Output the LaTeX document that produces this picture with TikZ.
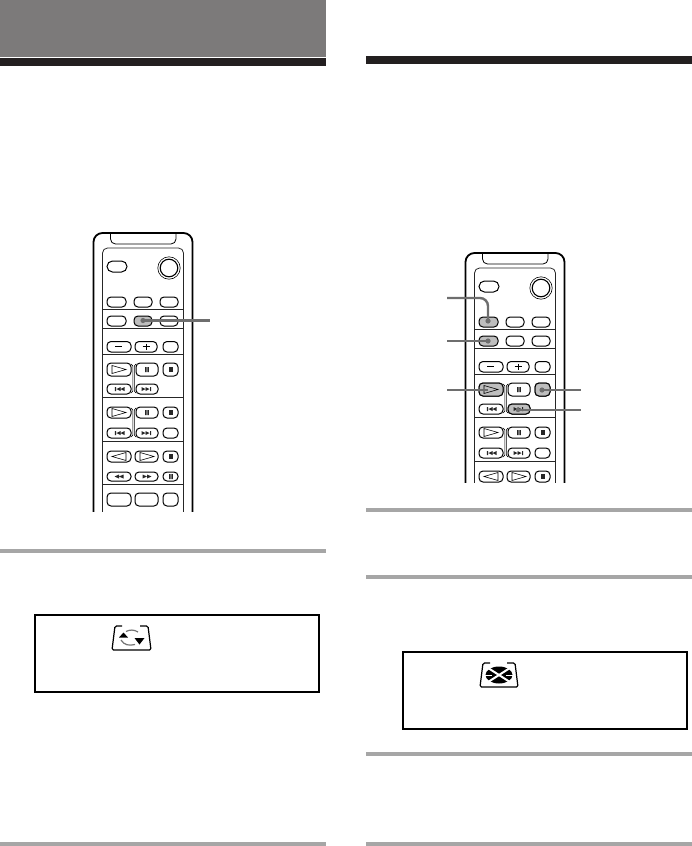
\documentclass[tikz,border=0pt]{standalone}
\definecolor{hdr}{HTML}{7C7A7A}
\definecolor{barblack}{HTML}{231F20}
\definecolor{rule}{HTML}{A6A6A6}
\definecolor{lead}{HTML}{6E6E6E}
\definecolor{hi}{HTML}{BEBEBE}
\tikzset{
  btn/.style={draw=black,line width=1pt,rounded corners=4pt,fill=white},
  hibtn/.style={btn,fill=hi},
  sep/.style={draw=black!85,line width=0.8pt},
  leadline/.style={draw=lead,line width=2.4pt},
  frame/.style={draw=black,line width=1.8pt},
  graybar/.style={fill=rule,draw=none},
  blackbar/.style={fill=barblack,draw=none},
  glyph/.style={fill=black!85,draw=none}
}
\newcommand{\bt}[5][btn]{\draw[#1] (#2,#3) rectangle (#4,#5);}
\newcommand{\playg}[2]{\draw[line width=0.6pt] (#1-7,#2-4) -- (#1+7,#2) -- (#1-7,#2+4) -- cycle;}
\newcommand{\lplayg}[2]{\draw[line width=0.6pt] (#1+7,#2-4) -- (#1-7,#2) -- (#1+7,#2+4) -- cycle;}
\newcommand{\pauseg}[2]{\fill[glyph] (#1-1.8,#2-2.5) rectangle (#1-0.4,#2+2.5) (#1+0.4,#2-2.5) rectangle (#1+1.8,#2+2.5);}
\newcommand{\stopg}[2]{\fill[glyph] (#1-2.2,#2-2.5) rectangle (#1+2.2,#2+2.5);}
\newcommand{\nextg}[2]{\fill[glyph] (#1-5.5,#2-2) -- (#1-1.5,#2) -- (#1-5.5,#2+2) -- cycle (#1-1.5,#2-2) -- (#1+2.5,#2) -- (#1-1.5,#2+2) -- cycle (#1+3,#2-2) rectangle (#1+4.2,#2+2);}
\newcommand{\prevg}[2]{\fill[glyph] (#1+5.5,#2-2) -- (#1+1.5,#2) -- (#1+5.5,#2+2) -- cycle (#1+1.5,#2-2) -- (#1-2.5,#2) -- (#1+1.5,#2+2) -- cycle (#1-3,#2-2) rectangle (#1-4.2,#2+2);}
\newcommand{\ffg}[2]{\fill[glyph] (#1-4.5,#2-2) -- (#1,#2) -- (#1-4.5,#2+2) -- cycle (#1,#2-2) -- (#1+4.5,#2) -- (#1,#2+2) -- cycle;}
\newcommand{\rwg}[2]{\fill[glyph] (#1+4.5,#2-2) -- (#1,#2) -- (#1+4.5,#2+2) -- cycle (#1,#2-2) -- (#1-4.5,#2) -- (#1,#2+2) -- cycle;}
\newcommand{\bridge}[2]{\draw[line width=0.6pt] (131,#1+1) -- (132.8,#1+3) -- (132.8,#2-3) -- (131,#2-1) (136,#1+1) -- (134.4,#1+3) -- (134.4,#2-3) -- (136,#2-1);}
\newcommand{\remotebody}{%
  \draw[line width=1.8pt,rounded corners=9pt] (93.5,530) -- (93.5,233) -- (192.5,233) -- (192.5,530);
  \draw[line width=0.8pt,rounded corners=5pt] (110.5,233) -- (110.5,244) -- (176,244) -- (176,233);
  \draw[sep,rounded corners=5pt] (102.5,530) -- (102.5,248) -- (183.5,248) -- (183.5,530);
  \draw[sep] (102.5,309) -- (183.5,309) (102.5,328) -- (183.5,328) (102.5,354) -- (183.5,354) (102.5,397) -- (183.5,397) (102.5,441) -- (183.5,441) (102.5,484) -- (183.5,484);
  \draw[btn,rounded corners=5.5pt] (107,261) rectangle (127,272);
  \draw[line width=0.6pt] (169,268) circle (11.2);
  \draw[line width=1.1pt] (169,268) circle (8.8);
  \bridge{363}{394}
  \bridge{407}{438}
  \bt{107}{341.5}{131}{352}\draw[line width=1pt] (115,346.8) -- (122,346.8);
  \bt{135}{341.5}{157}{352}\draw[line width=1pt] (142.5,346.8) -- (149.5,346.8) (146,343.5) -- (146,350);
  \bt{163}{341.5}{178}{352}
  \bt{107}{363}{131}{376}\playg{119}{369.5}
  \bt{136}{363}{158}{376}\pauseg{147}{369.5}
  \bt{163}{363}{178}{376}\stopg{171}{369.5}
  \bt{107}{384}{131}{394}\prevg{119}{389}
  \bt{136}{384}{158}{394}\nextg{147}{389}
  \bt{107}{407}{131}{418}\playg{119}{412.5}
  \bt{136}{407}{158}{418}\pauseg{147}{412.5}
  \bt{163}{407}{178}{418}\stopg{171}{412.5}
  \bt{107}{428}{131}{438}\prevg{119}{433}
  \bt{136}{428}{158}{438}\nextg{147}{433}
  \bt{163}{428}{178}{438}
  \bt{107}{451}{131}{462}\lplayg{119}{456.5}
  \bt{135}{451}{158}{462}\playg{147}{456.5}
  \bt{163}{451}{178}{462}\stopg{171}{456.5}
  \bt{107}{472}{131}{481}\rwg{119}{476.5}
  \bt{135}{472}{158}{481}\ffg{147}{476.5}
  \bt{163}{472}{178}{481}\pauseg{171}{476.5}
  \bt{107}{493}{131}{506}
  \bt{135}{493}{158}{506}
  \bt{163}{493}{178}{506}
}
\begin{document}
\begin{tikzpicture}[x=1pt,y=-1pt]
\useasboundingbox (0,0) rectangle (692,846);
\fill[hdr] (0,0) rectangle (326,57);
\fill[blackbar] (0,58) rectangle (326,66);
\fill[blackbar] (366,56) rectangle (692,64);
\fill[graybar] (0,549) rectangle (326,553);
\fill[graybar] (0,842) rectangle (326,846);
\fill[graybar] (366,508) rectangle (692,512);
\fill[graybar] (366,575) rectangle (692,579);
\fill[graybar] (366,752) rectangle (692,756);
\fill[graybar] (366,842) rectangle (692,846);
% left remote
\begin{scope}
  \clip (80,225) rectangle (210,511);
  \remotebody
  \bt{107}{297}{126}{307}\bt{134}{297}{152}{307}\bt{160}{297}{178}{307}
  \bt{107}{316}{126}{326}\bt[hibtn]{134}{316}{152}{326}\bt{160}{316}{178}{326}
\end{scope}
\coordinate (la) at (143,320.5);
\coordinate (lb) at (210,320.5);
\fill[lead] (la) circle (2.6);
\draw[leadline] (la) -- (lb);
% right remote
\begin{scope}[shift={(372,20)}]
  \clip (80,225) rectangle (210,462);
  \remotebody
  \bt[hibtn]{107}{297}{126}{307}\bt{134}{297}{152}{307}\bt{160}{297}{178}{307}
  \bt[hibtn]{107}{316}{126}{326}\bt{134}{316}{152}{326}\bt{160}{316}{178}{326}
  \bt[hibtn]{107}{363}{131}{376}\playg{119}{369.5}
  \bt[hibtn]{163}{363}{178}{376}
  \bt[hibtn]{136}{384}{158}{394}\nextg{147}{389}
\end{scope}
\coordinate (ra1) at (488,321);
\coordinate (rb1) at (447,298);
\coordinate (ra2) at (488,341);
\coordinate (rb2) at (447,341);
\coordinate (ra3) at (488,390);
\coordinate (rb3) at (447,390);
\coordinate (ra4) at (542,390);
\coordinate (rb4) at (581,390);
\coordinate (ra5) at (518,410);
\coordinate (rb5) at (581,410);
\fill[lead] (ra1) circle (2.6) (ra2) circle (2.6) (ra4) circle (2.6) (ra5) circle (2.2);
\draw[leadline,rounded corners=8pt] (rb1) -- (488,298) -- (ra1);
\draw[leadline] (rb2) -- (ra2);
\draw[leadline] (rb3) -- (ra3);
\draw[leadline] (ra4) -- (rb4);
\draw[lead,line width=1.6pt] (ra5) -- (rb5);
% boxes
\draw[frame] (35,615) rectangle (319,692);
\draw[frame] (403,652) rectangle (687,729);
% icon 1
\begin{scope}[shift={(112,626)}]
  \draw[line width=1.2pt,rounded corners=1.5pt] (10,0) -- (3,0) -- (0,24) -- (39,24) -- (36,0) -- (28,0);
  \fill[black] (7,11.5) -- (11.5,6.5) -- (16,11.5) -- cycle;
  \fill[black] (22.5,12) -- (32.5,12) -- (27.5,18.5) -- cycle;
  \draw[black!55,line width=1.2pt] (14,5.5) .. controls (18,3.5) and (22,3.5) .. (26,6);
  \draw[black!55,line width=1.2pt] (9,14) .. controls (12,19) and (17,20) .. (23,18.5);
\end{scope}
% icon 2
\begin{scope}[shift={(480,663)}]
  \draw[line width=1.2pt,rounded corners=1.5pt] (10,0) -- (3,0) -- (0,24) -- (38,24) -- (35,0) -- (27,0);
  \fill[black] (19,12) ellipse (13.5 and 8.5);
  \draw[white,line width=2pt] (5,3) -- (33,21) (5,21) -- (33,3);
  \draw[white,line width=1pt] (4,12) -- (12,12) (26,12) -- (34,12);
\end{scope}
\end{tikzpicture}
\end{document}
